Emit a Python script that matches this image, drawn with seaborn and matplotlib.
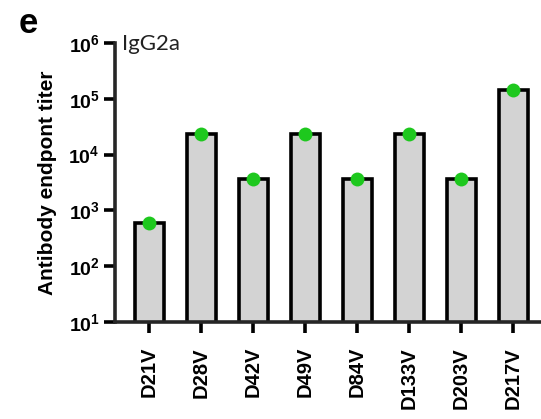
import matplotlib
matplotlib.use("Agg")
import matplotlib.pyplot as plt
import seaborn as sns
import pandas as pd

categories = ["D21V", "D28V", "D42V", "D49V", "D84V", "D133V", "D203V", "D217V"]
titers = [600, 23400, 3650, 23400, 3650, 23400, 3650, 146000]
ytick_values = [1e1, 1e2, 1e3, 1e4, 1e5, 1e6]
ytick_labels = [r"$\mathbf{10^{1}}$", r"$\mathbf{10^{2}}$", r"$\mathbf{10^{3}}$",
                r"$\mathbf{10^{4}}$", r"$\mathbf{10^{5}}$", r"$\mathbf{10^{6}}$"]

df = pd.DataFrame({"group": categories, "titer": titers})

sns.set_style("ticks")
plt.rcParams["font.family"] = ["Liberation Sans", "DejaVu Sans"]
plt.rcParams["mathtext.fontset"] = "custom"
plt.rcParams["mathtext.rm"] = "Liberation Sans"
plt.rcParams["mathtext.bf"] = "Liberation Sans:bold"
plt.rcParams["text.color"] = "black"
plt.rcParams["axes.labelcolor"] = "black"
plt.rcParams["xtick.color"] = "black"
plt.rcParams["ytick.color"] = "black"

fig = plt.figure(figsize=(5.41, 4.19), dpi=100)
ax = fig.add_axes([0.2126, 0.2315, 0.80, 0.666])
ax.set_yscale("log")

sns.barplot(data=df, x="group", y="titer", ax=ax, color="#d3d3d3",
            edgecolor="black", linewidth=2.6, width=0.57, errorbar=None,
            saturation=1)
sns.stripplot(data=df, x="group", y="titer", ax=ax, color="#1ec81e",
              size=10, jitter=False, zorder=5, linewidth=0)

ax.set_ylim(10, 1e6)
ax.set_xlim(-0.66, 7.66)
ax.set_yticks(ytick_values)
ax.set_yticklabels(ytick_labels, fontsize=14)
ax.minorticks_off()
ax.yaxis.set_minor_locator(matplotlib.ticker.NullLocator())
ax.set_xticks(range(len(categories)))
ax.set_xticklabels(categories, rotation=90, fontsize=14.5, fontweight="bold")

ax.set_xlabel("")
ax.set_ylabel("Antibody endpont titer", fontsize=15, fontweight="bold", labelpad=8)

for s in ["top", "right"]:
    ax.spines[s].set_visible(False)
for s in ["left", "bottom"]:
    ax.spines[s].set_linewidth(2.6)
ax.tick_params(axis="y", which="major", length=8, width=2.6, pad=3)
ax.tick_params(axis="x", which="major", length=8, width=2.6, pad=10)

fig.text(0.225, 0.895, "IgG2a", fontsize=16, family=["Lato", "DejaVu Sans"],
         va="center", ha="left", color="#222222")
fig.text(0.035, 0.945, "e", fontsize=25, fontweight="bold", va="center", ha="left")

fig.savefig("out.png", dpi=100)
